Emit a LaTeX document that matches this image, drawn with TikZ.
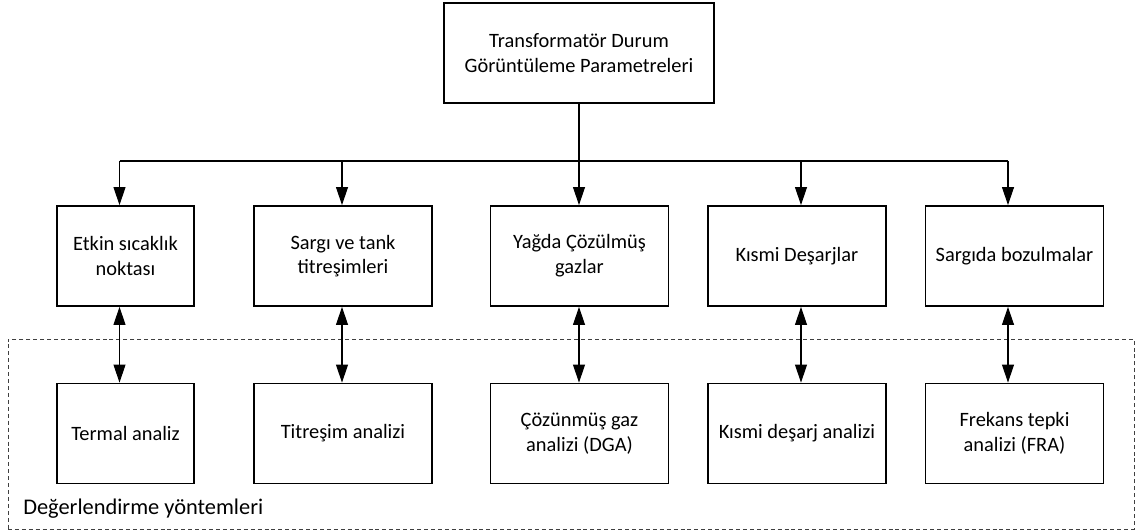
\documentclass[tikz,border=0pt]{standalone}
\usepackage{fontspec}
\setmainfont{Carlito}
\usetikzlibrary{arrows.meta}
\begin{document}
\begin{tikzpicture}[x=0.75pt,y=-0.75pt,
  box/.style={draw=black,line width=1.4pt,align=center,font=\fontsize{15.3pt}{18.5pt}\selectfont,inner sep=0pt},
  topbox/.style={box,minimum width=202.5pt,minimum height=75pt},
  rowbox/.style={box,minimum width=133.5pt,minimum height=75pt},
  conn/.style={line width=0.8pt,-{Triangle[length=13.5pt,width=9pt]}},
  dconn/.style={line width=0.8pt,{Triangle[length=13.5pt,width=9pt]}-{Triangle[length=13.5pt,width=9pt]}},
  group/.style={draw=black!75,line width=0.7pt,dash pattern=on 3pt off 2.2pt}]
\useasboundingbox (0,0) rectangle (1136,531);
% group frame
\node[group,minimum width=844.5pt,minimum height=142.5pt,inner sep=0pt] (grp) at (571,434) {};
\node[anchor=base west,inner sep=0pt,font=\fontsize{16.8pt}{20pt}\selectfont] (glabel) at (23,514) {Değerlendirme yöntemleri};
% top
\node[topbox] (top) at (579,53) {Transformatör Durum\\Görüntüleme Parametreleri};
% row 1
\node[rowbox,minimum width=102.75pt] (p1) at (125.5,256) {Etkin sıcaklık\\noktası};
\node[rowbox] (p2) at (343,256) {Sargı ve tank\\titreşimleri};
\node[rowbox] (p3) at (579.5,256) {Yağda Çözülmüş\\gazlar};
\node[rowbox] (p4) at (797,256) {Kısmi Deşarjlar};
\node[rowbox] (p5) at (1014.5,256) {Sargıda bozulmalar};
% row 2
\node[rowbox,minimum width=102.75pt] (m1) at (125.5,433.5) {Termal analiz};
\node[rowbox] (m2) at (343,433.5) {Titreşim analizi};
\node[rowbox] (m3) at (579.5,433.5) {Çözünmüş gaz\\analizi (DGA)};
\node[rowbox] (m4) at (797,433.5) {Kısmi deşarj analizi};
\node[rowbox] (m5) at (1014.5,433.5) {Frekans tepki\\analizi (FRA)};
% bus
\coordinate (j1) at (119.5,161);
\coordinate (j2) at (342,161);
\coordinate (j3) at (579,161);
\coordinate (j4) at (801,161);
\coordinate (j5) at (1008,161);
\draw[line width=0.8pt] (j1) -- (j5);
\draw[line width=0.8pt] (top.south -| j3) -- (j3);
\draw[conn] (j1) -- (j1 |- p1.north);
\draw[conn] (j2) -- (j2 |- p2.north);
\draw[conn] (j3) -- (j3 |- p3.north);
\draw[conn] (j4) -- (j4 |- p4.north);
\draw[conn] (j5) -- (j5 |- p5.north);
% double arrows
\draw[dconn] (j1 |- p1.south) -- (j1 |- m1.north);
\draw[dconn] (j2 |- p2.south) -- (j2 |- m2.north);
\draw[dconn] (j3 |- p3.south) -- (j3 |- m3.north);
\draw[dconn] (j4 |- p4.south) -- (j4 |- m4.north);
\draw[dconn] (j5 |- p5.south) -- (j5 |- m5.north);
\end{tikzpicture}
\end{document}
